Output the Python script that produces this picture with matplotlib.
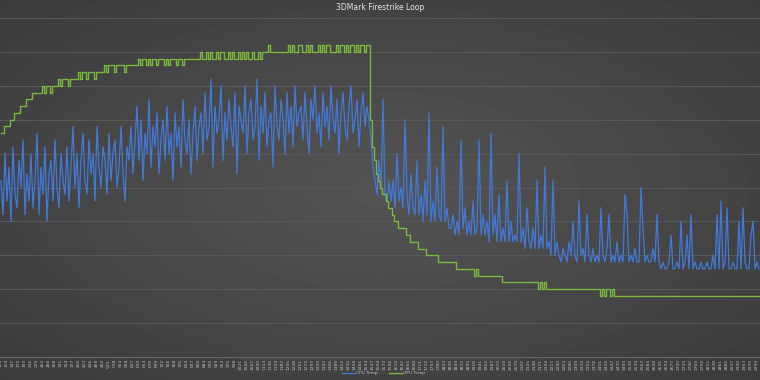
import numpy as np
import matplotlib
matplotlib.use('Agg')
import matplotlib.pyplot as plt

# CPU temperature samples (deg C)
cpu_temp = [
    66, 61, 70, 63, 68, 60, 71, 64, 62, 69, 65, 72, 61, 67, 63,
    70, 62, 66, 73, 61, 68, 64, 71, 60, 67, 69, 63, 72, 65, 62, 70, 66, 64,
    71, 63, 68, 74, 65, 70, 62, 69, 73, 66, 64, 72, 67, 70, 63, 74,
    68, 65, 71, 69, 64, 73, 66, 70, 72, 65, 68, 74, 67, 63, 71, 69,
    74, 67, 72, 77, 69, 75, 66, 73, 70, 78, 68, 74, 71, 76, 67, 72, 75, 69,
    77, 70, 73, 66, 76, 71, 74, 68, 78, 72, 70, 75, 67, 73, 77, 69, 74,
    76, 70, 79, 72, 74, 81, 68, 77, 73, 75, 80, 69, 76, 72, 78, 74, 71, 79,
    67, 77, 75, 73, 80, 70, 76, 78, 72, 74, 81, 69, 77, 73, 79, 71, 75, 76,
    68, 80, 74, 72, 78, 75, 70, 79, 73, 77, 71, 80, 74, 76,
    77, 72, 79, 74, 70, 78, 75, 80, 73, 76, 71, 79, 74, 77, 72, 80, 75, 73,
    78, 70, 76, 79, 74, 72, 77, 80, 73, 75, 78, 71, 76, 79, 74, 77, 75,
    72, 68, 66, 64, 69, 65, 78, 64, 63, 66,
    63, 66, 62, 70, 63, 65, 62, 75, 64, 61, 67, 62, 61, 69, 61,
    64, 60, 66, 61, 76, 60, 63, 60, 68, 61, 60, 74, 60, 62, 59,
    59, 61, 58, 60, 58, 72, 59, 62, 58, 60,
    58, 63, 58, 59, 72, 58, 61, 58, 60, 57,
    73, 58, 61, 57, 64, 57, 59, 57, 66, 57,
    60, 57, 58, 57, 70, 57, 59, 56, 62, 57,
    56, 59, 56, 66, 56, 58, 56, 68, 56, 57,
    55, 66, 55, 57, 55, 54, 56, 55, 54, 57,
    55, 60, 55, 54, 63, 55, 56, 54, 61, 55,
    54, 56, 54, 55, 54, 62, 55, 54, 56, 61,
    54, 55, 54, 57, 54, 55, 54, 64, 61, 54,
    55, 54, 56, 54, 54, 65, 59, 54, 55, 54,
    54, 56, 54, 61, 54,
    53, 54, 53, 53, 54, 58, 53, 53, 54, 53,
    60, 53, 54, 58, 53, 61, 53, 54, 53, 53,
    54, 53, 53, 54, 53, 53, 55, 53, 61, 53,
    63, 53, 54, 62, 53, 53, 54, 53, 53, 60,
    53, 62, 54, 53, 53, 58, 60, 53, 54, 53,
]

# GPU temperature samples (deg C)
gpu_temp = [
    73, 73, 74, 74, 74, 75, 75, 76, 76, 76,
    77, 77, 77, 78, 78, 78, 79, 79, 79, 79,
    79, 80, 79, 80, 80, 79, 80, 80, 80, 81,
    80, 81, 81, 81, 80, 81, 81, 81, 81, 82,
    81, 82, 82, 81, 82, 82, 82, 81, 82, 82,
    82, 82, 83, 82, 83, 83, 83, 82, 83, 83,
    83, 83, 82, 83, 83, 83, 83, 83, 83, 84,
    83, 84, 84, 83, 84, 83, 84, 84, 83, 84,
    84, 84, 83, 84, 83, 84, 84, 84, 83, 84,
    84, 83, 84, 84, 84, 84, 84, 84, 84, 84,
    85, 84, 84, 85, 84, 85, 84, 84, 85, 84,
    85, 85, 84, 84, 85, 84, 85, 84, 84, 85,
    84, 85, 84, 85, 84, 84, 85, 84, 84, 85,
    84, 85, 85, 85, 86, 85, 85, 85, 85, 85,
    85, 85, 85, 85, 86, 85, 86, 85, 85, 86,
    86, 85, 85, 86, 85, 86, 85, 85, 85, 86,
    85, 86, 85, 86, 86, 85, 85, 85, 86, 85,
    86, 86, 85, 86, 85, 86, 86, 85, 86, 85,
    86, 86, 85, 86, 86, 75, 71, 69, 67, 66,
    65, 64, 64, 63, 62, 62, 61, 60, 60, 59,
    59, 59, 59, 58, 58, 57, 57, 57, 57, 56,
    56, 56, 56, 55, 55, 55, 55, 55, 55, 54,
    54, 54, 54, 54, 54, 54, 54, 54, 53, 53,
    53, 53, 53, 53, 53, 53, 53, 52, 53, 52,
    52, 52, 52, 52, 52, 52, 52, 52, 52, 52,
    52, 51, 51, 51, 51, 51, 51, 51, 51, 51,
    51, 51, 51, 51, 51, 51, 51, 51, 51, 50,
    51, 50, 51, 50, 50, 50, 50, 50, 50, 50,
    50, 50, 50, 50, 50, 50, 50, 50, 50, 50,
    50, 50, 50, 50, 50, 50, 50, 50, 50, 50,
    49, 50, 49, 50, 50, 49, 50, 49, 49, 49,
    49, 49, 49, 49, 49, 49, 49, 49, 49, 49,
    49, 49, 49, 49, 49, 49, 49, 49, 49, 49,
    49, 49, 49, 49, 49, 49, 49, 49, 49, 49,
    49, 49, 49, 49, 49, 49, 49, 49, 49, 49,
    49, 49, 49, 49, 49, 49, 49, 49, 49, 49,
    49, 49, 49, 49, 49, 49, 49, 49, 49, 49,
    49, 49, 49, 49, 49, 49, 49, 49, 49, 49,
]

n = len(cpu_temp)
x = np.arange(n)
# sample counter shown under every third point
tick_pos = x[::3]
tick_labels = [str(101 + 23 * k) for k in range(len(tick_pos))]

fig = plt.figure(figsize=(7.6, 3.8), dpi=100)

# dark radial background like the Excel chart style
bg = fig.add_axes([0, 0, 1, 1])
yy, xx = np.mgrid[0:380, 0:760]
r = np.sqrt(((xx - 380) / 380.0) ** 2 + ((yy - 190) / 190.0) ** 2) / np.sqrt(2)
bg.imshow(0.33 - 0.10 * r, cmap='gray', vmin=0, vmax=1, aspect='auto')
bg.axis('off')

ax = fig.add_axes([0, 1 - 357 / 380, 1, 339 / 380])
ax.set_facecolor('none')
ax.plot(x, cpu_temp, color='#4279d8', lw=0.9, label='CPU Temp')
ax.plot(x, gpu_temp, color='#79b83c', lw=1.0, drawstyle='steps-mid', label='GPU Temp')

ax.set_xlim(-0.5, n - 0.5)
ax.set_ylim(40, 90)
ax.set_yticks(np.arange(40, 91, 5))
ax.yaxis.grid(True, color='#585858', lw=0.8)
ax.set_axisbelow(True)
ax.tick_params(axis='y', length=0, labelleft=False)
ax.set_xticks(tick_pos)
ax.set_xticklabels(tick_labels, rotation=90, fontsize=3.2, color='#bdbdbd')
ax.tick_params(axis='x', length=0, pad=1.5)
for s in ['top', 'left', 'right']:
    ax.spines[s].set_visible(False)
ax.spines['bottom'].set_color('#666666')
ax.spines['bottom'].set_linewidth(0.8)

fig.text(0.5, 1 - 8 / 380, '3DMark Firestrike Loop', ha='center', va='center',
         color='#e6e6e6', fontsize=5.5)

ax.legend(loc='center', bbox_to_anchor=(0.505, 1 - 373 / 380), bbox_transform=fig.transFigure,
          ncol=2, frameon=False, fontsize=3.2, labelcolor='#bdbdbd', handlelength=2.8,
          handletextpad=0.4, columnspacing=2.5)

fig.savefig('out.png', dpi=100)
